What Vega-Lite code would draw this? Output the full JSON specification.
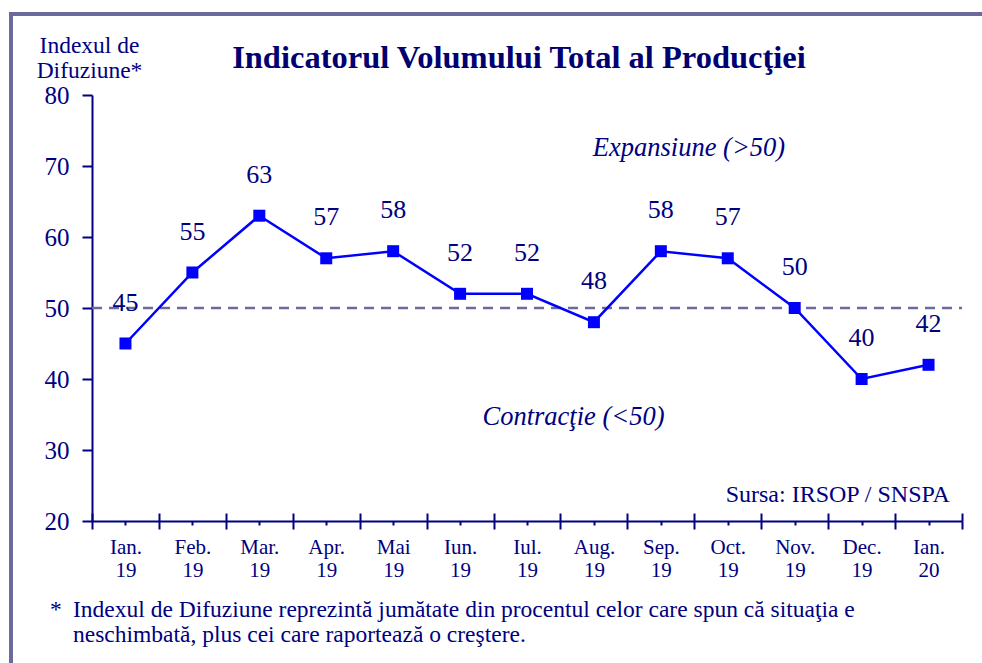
{
  "$schema": "https://vega.github.io/schema/vega-lite/v6.json",
  "width": 971,
  "height": 649,
  "autosize": "none",
  "padding": {"left": 11, "top": 14, "right": 0, "bottom": 0},
  "background": "white",
  "view": {"stroke": "#6b6b9b", "strokeWidth": 4, "strokeDash": [971, 1620, 649]},
  "config": {"font": "Liberation Serif"},
  "data": {
    "values": [
      {"i": 0, "month": "Ian.", "year": "19", "value": 45},
      {"i": 1, "month": "Feb.", "year": "19", "value": 55},
      {"i": 2, "month": "Mar.", "year": "19", "value": 63},
      {"i": 3, "month": "Apr.", "year": "19", "value": 57},
      {"i": 4, "month": "Mai", "year": "19", "value": 58},
      {"i": 5, "month": "Iun.", "year": "19", "value": 52},
      {"i": 6, "month": "Iul.", "year": "19", "value": 52},
      {"i": 7, "month": "Aug.", "year": "19", "value": 48},
      {"i": 8, "month": "Sep.", "year": "19", "value": 58},
      {"i": 9, "month": "Oct.", "year": "19", "value": 57},
      {"i": 10, "month": "Nov.", "year": "19", "value": 50},
      {"i": 11, "month": "Dec.", "year": "19", "value": 40},
      {"i": 12, "month": "Ian.", "year": "20", "value": 42}
    ]
  },
  "resolve": {"axis": {"x": "independent"}},
  "layer": [
    {
      "data": {"values": [{}]},
      "mark": {"type": "rule", "color": "#6b6b9f", "strokeWidth": 2.5, "strokeDash": [10, 7]},
      "encoding": {
        "x": {"datum": -0.5, "type": "quantitative",
          "scale": {"domain": [-0.5, 12.5], "range": [81, 951], "nice": false, "zero": false},
          "axis": {"orient": "bottom", "offset": -142, "values": [-0.5, 0.5, 1.5, 2.5, 3.5, 4.5, 5.5, 6.5, 7.5, 8.5, 9.5, 10.5, 11.5, 12.5],
            "tickSize": 8, "tickWidth": 2, "tickColor": "#000080", "domain": true, "domainColor": "#000080", "domainWidth": 2,
            "labels": false, "grid": false, "title": null}},
        "x2": {"datum": 12.5},
        "y": {"datum": 50, "type": "quantitative",
          "scale": {"domain": [20, 80], "range": [507, 81], "nice": false, "zero": false},
          "axis": {"orient": "left", "offset": -81, "values": [20, 30, 40, 50, 60, 70, 80],
            "tickSize": 10, "tickWidth": 2, "tickColor": "#000080", "domainColor": "#000080", "domainWidth": 2,
            "labelFont": "Liberation Serif", "labelFontSize": 25, "labelColor": "#000080", "labelPadding": 13,
            "grid": false,
            "title": ["Indexul de", "Difuziune*"], "titleAngle": 0, "titleX": -3, "titleY": 38,
            "titleAlign": "center", "titleBaseline": "alphabetic", "titleFont": "Liberation Serif",
            "titleFontSize": 23.5, "titleFontWeight": "normal", "titleColor": "#000080", "titleLineHeight": 25}}
      }
    },
    {
      "mark": {"type": "line", "color": "#0000ff", "strokeWidth": 2.5},
      "encoding": {
        "x": {"field": "i", "type": "quantitative",
          "scale": {"domain": [-0.5, 12.5], "range": [81, 951], "nice": false, "zero": false},
          "axis": {"orient": "bottom", "offset": -142, "values": [-0.5, 0.5, 1.5, 2.5, 3.5, 4.5, 5.5, 6.5, 7.5, 8.5, 9.5, 10.5, 11.5, 12.5],
            "tickSize": -8, "tickWidth": 2, "tickColor": "#000080", "domain": false,
            "labels": false, "grid": false, "title": null}},
        "y": {"field": "value", "type": "quantitative"}
      }
    },
    {
      "mark": {"type": "point", "shape": "square", "filled": true, "size": 144, "color": "#0000ff", "opacity": 1},
      "encoding": {
        "x": {"field": "i", "type": "quantitative",
          "axis": {"orient": "bottom", "offset": -142, "values": [0, 1, 2, 3, 4, 5, 6, 7, 8, 9, 10, 11, 12],
            "tickSize": 4, "tickWidth": 2, "tickColor": "#000080", "domain": false, "grid": false, "title": null,
            "labelExpr": "[['Ian.','19'],['Feb.','19'],['Mar.','19'],['Apr.','19'],['Mai','19'],['Iun.','19'],['Iul.','19'],['Aug.','19'],['Sep.','19'],['Oct.','19'],['Nov.','19'],['Dec.','19'],['Ian.','20']][datum.value]",
            "labelFont": "Liberation Serif", "labelFontSize": 21, "labelColor": "#000080", "labelPadding": 11,
            "labelLineHeight": 23, "labelOverlap": false, "labelFlush": false, "labelBound": false, "labelAlign": "center"}},
        "y": {"field": "value", "type": "quantitative"}
      }
    },
    {
      "mark": {"type": "text", "dy": -33, "baseline": "alphabetic", "align": "center", "fontSize": 26, "font": "Liberation Serif", "color": "#000080"},
      "encoding": {
        "x": {"field": "i", "type": "quantitative", "axis": null},
        "y": {"field": "value", "type": "quantitative"},
        "text": {"field": "value", "type": "quantitative"}
      }
    },
    {
      "data": {"values": [{}]},
      "mark": {"type": "text", "text": "Indicatorul Volumului Total al Producţiei", "align": "center", "baseline": "alphabetic", "fontSize": 32.5, "fontWeight": "bold", "font": "Liberation Serif", "color": "#000070"},
      "encoding": {
        "x": {"datum": 5.88, "type": "quantitative", "axis": null},
        "y": {"datum": 83.76, "type": "quantitative"}
      }
    },
    {
      "data": {"values": [{}]},
      "mark": {"type": "text", "text": "Expansiune (>50)", "align": "center", "baseline": "alphabetic", "fontSize": 26.5, "fontStyle": "italic", "font": "Liberation Serif", "color": "#000080"},
      "encoding": {
        "x": {"datum": 8.42, "type": "quantitative", "axis": null},
        "y": {"datum": 71.4, "type": "quantitative"}
      }
    },
    {
      "data": {"values": [{}]},
      "mark": {"type": "text", "text": "Contracţie (<50)", "align": "center", "baseline": "alphabetic", "fontSize": 26.5, "fontStyle": "italic", "font": "Liberation Serif", "color": "#000080"},
      "encoding": {
        "x": {"datum": 6.695, "type": "quantitative", "axis": null},
        "y": {"datum": 33.52, "type": "quantitative"}
      }
    },
    {
      "data": {"values": [{}]},
      "mark": {"type": "text", "text": "Sursa: IRSOP / SNSPA", "align": "right", "baseline": "alphabetic", "fontSize": 24, "font": "Liberation Serif", "color": "#000080"},
      "encoding": {
        "x": {"datum": 12.32, "type": "quantitative", "axis": null},
        "y": {"datum": 22.72, "type": "quantitative"}
      }
    },
    {
      "data": {"values": [{}]},
      "mark": {"type": "text", "text": "*", "align": "left", "baseline": "alphabetic", "fontSize": 23.5, "font": "Liberation Serif", "color": "#000080"},
      "encoding": {
        "x": {"datum": -1.128, "type": "quantitative", "axis": null},
        "y": {"datum": 6.48, "type": "quantitative"}
      }
    },
    {
      "data": {"values": [{}]},
      "mark": {"type": "text", "text": ["Indexul de Difuziune reprezintă jumătate din procentul celor care spun că situaţia e", "neschimbată, plus cei care raportează o creştere."], "align": "left", "baseline": "alphabetic", "fontSize": 23.5, "lineHeight": 25, "font": "Liberation Serif", "color": "#000080"},
      "encoding": {
        "x": {"datum": -0.784, "type": "quantitative", "axis": null},
        "y": {"datum": 6.48, "type": "quantitative"}
      }
    }
  ]
}
